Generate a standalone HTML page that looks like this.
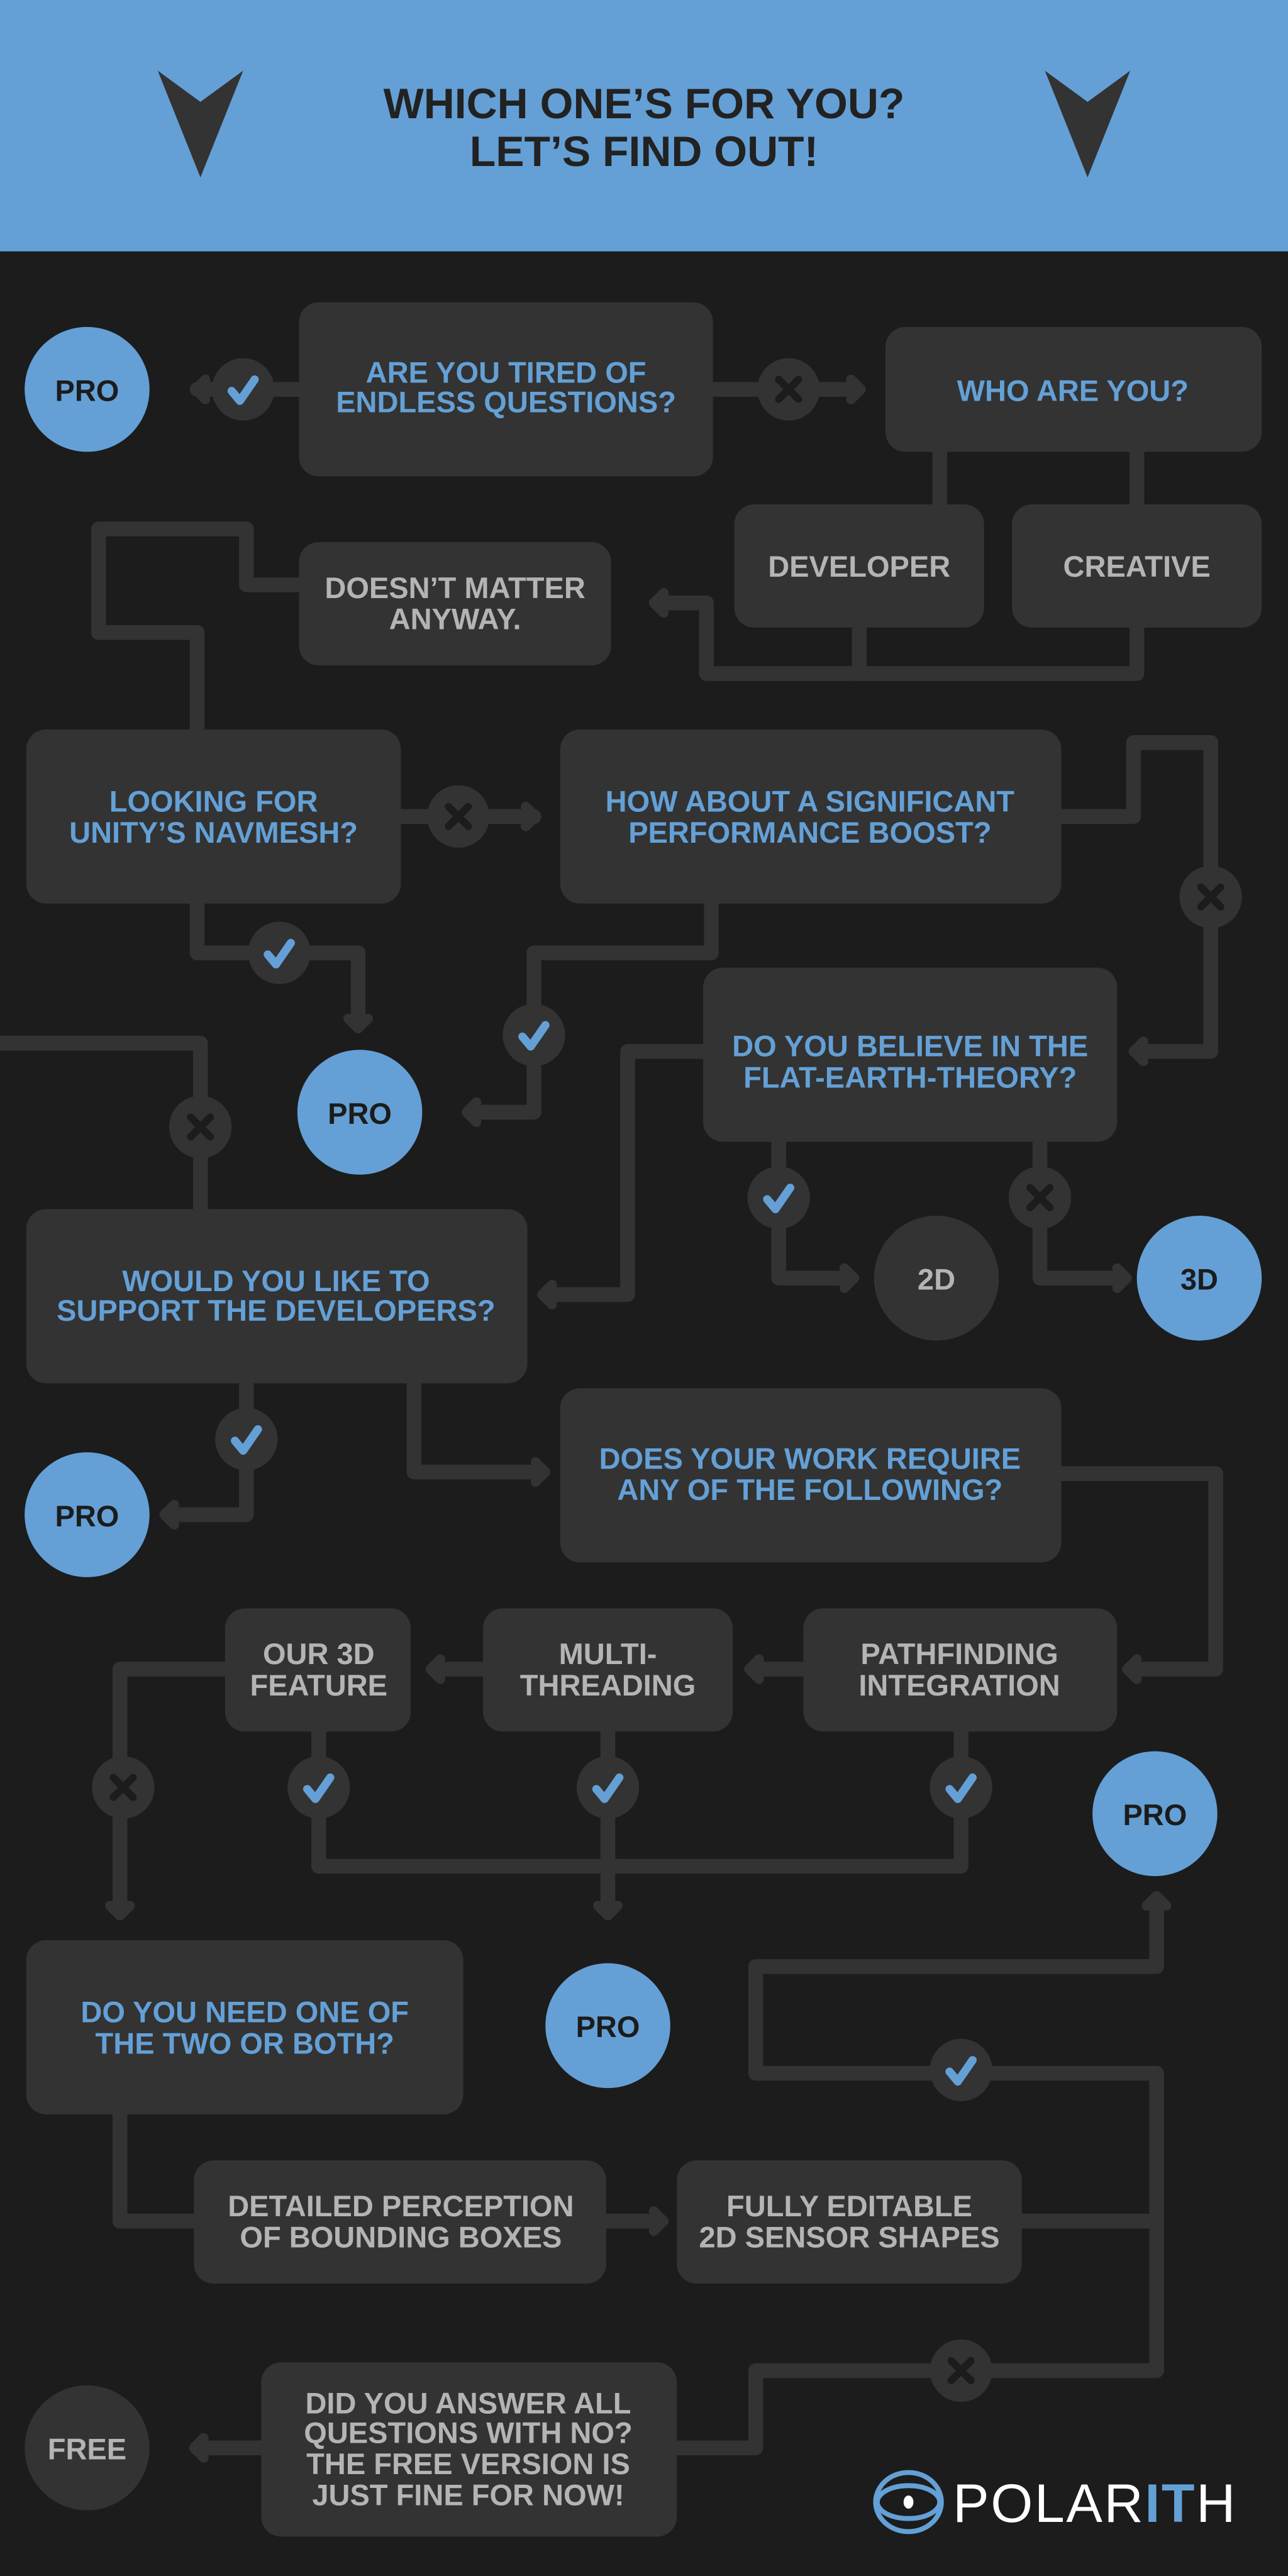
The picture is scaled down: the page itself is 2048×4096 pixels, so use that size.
<!DOCTYPE html>
<html><head><meta charset="utf-8"><style>
html,body{margin:0;padding:0;background:#1c1c1c;}
svg{display:block;}
text{font-family:"Liberation Sans Narrow","Liberation Sans",sans-serif;font-weight:bold;text-anchor:middle;}
.b{fill:#64a0d6;font-size:18px;}
.g{fill:#b4b4b4;font-size:18px;}
.d{fill:#1c1c1c;font-size:18px;}
.ln{fill:none;stroke:#333;stroke-width:9;stroke-linejoin:round;stroke-linecap:round;}
.ar{fill:none;stroke:#333;stroke-width:6;stroke-linejoin:round;stroke-linecap:round;}
.ck{fill:none;stroke:#64a0d6;stroke-width:5;stroke-linecap:round;stroke-linejoin:round;}
.x{stroke:#1c1c1c;stroke-width:4.5;stroke-linecap:round;}
.box{fill:#333;}
</style></head><body>
<svg width="2048" height="4096" viewBox="0 0 784 1568" preserveAspectRatio="none" xmlns="http://www.w3.org/2000/svg">
<rect width="784" height="1568" fill="#1c1c1c"/>
<rect width="784" height="153" fill="#64a0d6"/>
<path d="M96 43 L122 62 L148 43 L122 108 Z" fill="#333"/>
<path d="M636 43 L662 62 L688 43 L662 108 Z" fill="#333"/>
<text x="392" y="72" style="font-size:26px;fill:#222">WHICH ONE’S FOR YOU?</text>
<text x="392" y="101" style="font-size:26px;fill:#222">LET’S FIND OUT!</text>

<!-- connectors -->
<g class="ln">
<path d="M120 237 H182"/>
<path d="M434 237 H520"/>
<path d="M572 275 V307 M692 275 V307"/>
<path d="M523 382 V410 H430 V367 H400"/>
<path d="M692 382 V410 H523"/>
<path d="M182 356 H150 V322 H60 V385 H120 V444"/>
<path d="M244 497 H325"/>
<path d="M120 550 V580 H218 V622"/>
<path d="M433 550 V580 H325 V677 H287"/>
<path d="M646 497 H690 V452 H737 V640 H692"/>
<path d="M428 640 H382 V788 H333"/>
<path d="M474 695 V778 H518"/>
<path d="M633 695 V778 H684"/>
<path d="M0 635 H122 V736"/>
<path d="M150 842 V922 H102"/>
<path d="M252 842 V896 H330"/>
<path d="M646 897 H740 V1016 H690"/>
<path d="M489 1016 H460 M294 1016 H266"/>
<path d="M137 1016 H73 V1162"/>
<path d="M585 1054 V1136 H194 V1054 M370 1054 V1162"/>
<path d="M73 1287 V1352 H118"/>
<path d="M369 1352 H400"/>
<path d="M622 1352 H704 V1262 H460 V1197 H704 V1158"/>
<path d="M704 1352 V1443 H460 V1490 H412"/>
<path d="M159 1490 H120"/>
</g>
<!-- arrowheads -->
<g class="ar">
<path d="M125 231 L119 237 L125 243"/>
<path d="M518 231 L524 237 L518 243"/>
<path d="M404 361 L398 367 L404 373"/>
<path d="M320 491 L326 497 L320 503"/>
<path d="M212 620 L218 626 L224 620"/>
<path d="M290 671 L284 677 L290 683"/>
<path d="M696 634 L690 640 L696 646"/>
<path d="M336 782 L330 788 L336 794"/>
<path d="M514 772 L520 778 L514 784"/>
<path d="M680 772 L686 778 L680 784"/>
<path d="M106 916 L100 922 L106 928"/>
<path d="M326 890 L332 896 L326 902"/>
<path d="M692 1010 L686 1016 L692 1022"/>
<path d="M462 1010 L456 1016 L462 1022"/>
<path d="M268 1010 L262 1016 L268 1022"/>
<path d="M67 1160 L73 1166 L79 1160"/>
<path d="M364 1160 L370 1166 L376 1160"/>
<path d="M398 1346 L404 1352 L398 1358"/>
<path d="M698 1160 L704 1154 L710 1160"/>
<path d="M124 1484 L118 1490 L124 1496"/>
</g>

<!-- boxes -->
<g class="box">
<rect x="182" y="184" width="252" height="106" rx="12"/>
<rect x="539" y="199" width="229" height="76" rx="12"/>
<rect x="447" y="307" width="152" height="75" rx="12"/>
<rect x="616" y="307" width="152" height="75" rx="12"/>
<rect x="182" y="330" width="190" height="75" rx="12"/>
<rect x="16" y="444" width="228" height="106" rx="12"/>
<rect x="341" y="444" width="305" height="106" rx="12"/>
<rect x="428" y="589" width="252" height="106" rx="12"/>
<rect x="16" y="736" width="305" height="106" rx="12"/>
<rect x="341" y="845" width="305" height="106" rx="12"/>
<rect x="489" y="979" width="191" height="75" rx="12"/>
<rect x="294" y="979" width="152" height="75" rx="12"/>
<rect x="137" y="979" width="113" height="75" rx="12"/>
<rect x="16" y="1181" width="266" height="106" rx="12"/>
<rect x="118" y="1315" width="251" height="75" rx="12"/>
<rect x="412" y="1315" width="210" height="75" rx="12"/>
<rect x="159" y="1438" width="253" height="106" rx="12"/>
</g>

<!-- circles -->
<circle cx="53" cy="237" r="38" fill="#64a0d6"/><text class="d" x="53" y="244">PRO</text>
<circle cx="219" cy="677" r="38" fill="#64a0d6"/><text class="d" x="219" y="684">PRO</text>
<circle cx="570" cy="778" r="38" fill="#333"/><text class="g" x="570" y="785">2D</text>
<circle cx="730" cy="778" r="38" fill="#64a0d6"/><text class="d" x="730" y="785">3D</text>
<circle cx="53" cy="922" r="38" fill="#64a0d6"/><text class="d" x="53" y="929">PRO</text>
<circle cx="703" cy="1104" r="38" fill="#64a0d6"/><text class="d" x="703" y="1111">PRO</text>
<circle cx="370" cy="1233" r="38" fill="#64a0d6"/><text class="d" x="370" y="1240">PRO</text>
<circle cx="53" cy="1490" r="38" fill="#333"/><text class="g" x="53" y="1497">FREE</text>

<!-- check badges -->
<g fill="#333">
<circle cx="148" cy="237" r="19"/><circle cx="170" cy="580" r="19"/><circle cx="325" cy="630" r="19"/>
<circle cx="474" cy="729" r="19"/><circle cx="150" cy="876" r="19"/><circle cx="585" cy="1088" r="19"/>
<circle cx="370" cy="1088" r="19"/><circle cx="194" cy="1088" r="19"/><circle cx="585" cy="1260" r="19"/>
<circle cx="480" cy="237" r="19"/><circle cx="279" cy="497" r="19"/><circle cx="737" cy="546" r="19"/>
<circle cx="633" cy="729" r="19"/><circle cx="122" cy="686" r="19"/><circle cx="75" cy="1088" r="19"/>
<circle cx="585" cy="1443" r="19"/>
</g>
<g class="ck">
<path d="M141 238 L146 244 L155 231"/>
<path d="M163 581 L168 587 L177 574"/>
<path d="M318 631 L323 637 L332 624"/>
<path d="M467 730 L472 736 L481 723"/>
<path d="M143 877 L148 883 L157 870"/>
<path d="M578 1089 L583 1095 L592 1082"/>
<path d="M363 1089 L368 1095 L377 1082"/>
<path d="M187 1089 L192 1095 L201 1082"/>
<path d="M578 1261 L583 1267 L592 1254"/>
</g>
<g class="x">
<path d="M474 231 L486 243 M486 231 L474 243"/>
<path d="M273 491 L285 503 M285 491 L273 503"/>
<path d="M731 540 L743 552 M743 540 L731 552"/>
<path d="M627 723 L639 735 M639 723 L627 735"/>
<path d="M116 680 L128 692 M128 680 L116 692"/>
<path d="M69 1082 L81 1094 M81 1082 L69 1094"/>
<path d="M579 1437 L591 1449 M591 1437 L579 1449"/>
</g>

<!-- labels -->
<text class="b" x="308" y="233">ARE YOU TIRED OF</text><text class="b" x="308" y="251">ENDLESS QUESTIONS?</text>
<text class="b" x="653" y="244">WHO ARE YOU?</text>
<text class="g" x="523" y="351">DEVELOPER</text>
<text class="g" x="692" y="351">CREATIVE</text>
<text class="g" x="277" y="364">DOESN’T MATTER</text><text class="g" x="277" y="383">ANYWAY.</text>
<text class="b" x="130" y="494">LOOKING FOR</text><text class="b" x="130" y="513">UNITY’S NAVMESH?</text>
<text class="b" x="493" y="494">HOW ABOUT A SIGNIFICANT</text><text class="b" x="493" y="513">PERFORMANCE BOOST?</text>
<text class="b" x="554" y="643">DO YOU BELIEVE IN THE</text><text class="b" x="554" y="662">FLAT-EARTH-THEORY?</text>
<text class="b" x="168" y="786">WOULD YOU LIKE TO</text><text class="b" x="168" y="804">SUPPORT THE DEVELOPERS?</text>
<text class="b" x="493" y="894">DOES YOUR WORK REQUIRE</text><text class="b" x="493" y="913">ANY OF THE FOLLOWING?</text>
<text class="g" x="584" y="1013">PATHFINDING</text><text class="g" x="584" y="1032">INTEGRATION</text>
<text class="g" x="370" y="1013">MULTI-</text><text class="g" x="370" y="1032">THREADING</text>
<text class="g" x="194" y="1013">OUR 3D</text><text class="g" x="194" y="1032">FEATURE</text>
<text class="b" x="149" y="1231">DO YOU NEED ONE OF</text><text class="b" x="149" y="1250">THE TWO OR BOTH?</text>
<text class="g" x="244" y="1349">DETAILED PERCEPTION</text><text class="g" x="244" y="1368">OF BOUNDING BOXES</text>
<text class="g" x="517" y="1349">FULLY EDITABLE</text><text class="g" x="517" y="1368">2D SENSOR SHAPES</text>
<text class="g" x="285" y="1469">DID YOU ANSWER ALL</text><text class="g" x="285" y="1487">QUESTIONS WITH NO?</text>
<text class="g" x="285" y="1506">THE FREE VERSION IS</text><text class="g" x="285" y="1525">JUST FINE FOR NOW!</text>

<!-- logo -->
<ellipse cx="553" cy="1523" rx="20" ry="18" fill="none" stroke="#64a0d6" stroke-width="3"/>
<ellipse cx="553" cy="1523" rx="19" ry="10" fill="none" stroke="#64a0d6" stroke-width="3"/>
<ellipse cx="553" cy="1523" rx="3" ry="4" fill="#fff"/>
<text x="580" y="1535" style="text-anchor:start;font-family:'Liberation Sans',sans-serif;font-weight:normal;font-size:33px;fill:#fff;letter-spacing:1px">POLAR<tspan fill="#64a0d6" font-weight="bold">IT</tspan>H</text>
</svg>
</body></html>
